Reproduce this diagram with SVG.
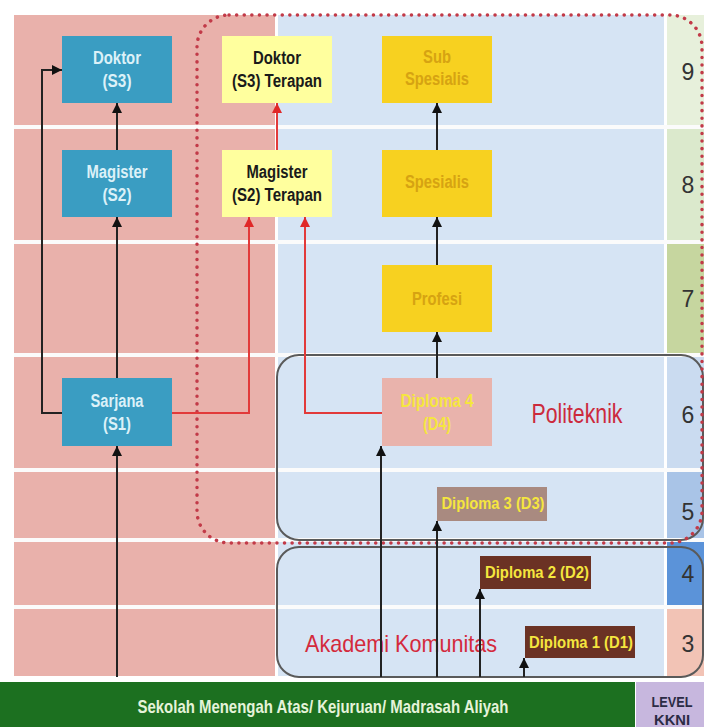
<svg xmlns="http://www.w3.org/2000/svg" width="704" height="727" viewBox="0 0 704 727">
<defs>
<style>
.t{font-family:"Liberation Sans Narrow","Liberation Sans",Arial,sans-serif;font-weight:bold;text-anchor:middle}
.teal{fill:#3a9dc2}.teal-t{fill:#dcf1f8}
.ly{fill:#ffff9e}.ly-t{fill:#1a1a1a}
.gold{fill:#f7d120}.gold-t{fill:#d6a312}
.dip-t{fill:#f5e63e}
.lvl{font-family:"Liberation Sans Narrow","Liberation Sans",Arial,sans-serif;font-size:23px;fill:#333;text-anchor:middle}
.blk{stroke:#222;stroke-width:2;fill:none}
.red{stroke:#e23a3a;stroke-width:2;fill:none}
.sep{stroke:#fbfbfb;stroke-width:4}
</style>
<marker id="ab" markerUnits="userSpaceOnUse" markerWidth="10" markerHeight="12" refX="10" refY="5" orient="auto" viewBox="0 0 10 10"><path d="M0,0 L10,5 L0,10 z" fill="#111"/></marker>
<marker id="ar" markerUnits="userSpaceOnUse" markerWidth="10" markerHeight="12" refX="10" refY="5" orient="auto" viewBox="0 0 10 10"><path d="M0,0 L10,5 L0,10 z" fill="#e02828"/></marker>
</defs>
<rect width="704" height="727" fill="#ffffff"/>
<g id="background">
<rect x="14" y="15" width="261" height="661" fill="#e9b1ab"/>
<rect x="278" y="15" width="386" height="661" fill="#d6e4f4"/>
<rect x="667" y="15" width="37" height="112" fill="#e7f0db"/>
<rect x="667" y="127" width="37" height="115" fill="#dbe9cc"/>
<rect x="667" y="242" width="37" height="113" fill="#c6d69f"/>
<rect x="667" y="355" width="37" height="115" fill="#cadbf0"/>
<rect x="667" y="470" width="37" height="70" fill="#a9c4e7"/>
<rect x="667" y="540" width="37" height="67" fill="#5b93d9"/>
<rect x="667" y="607" width="37" height="69" fill="#f2c3b5"/>
<g class="sep">
<line x1="14" y1="127" x2="704" y2="127"/>
<line x1="14" y1="242" x2="704" y2="242"/>
<line x1="14" y1="355" x2="704" y2="355"/>
<line x1="14" y1="470" x2="704" y2="470"/>
<line x1="14" y1="540" x2="704" y2="540"/>
<line x1="14" y1="607" x2="704" y2="607"/>
</g>
<rect x="0" y="682" width="635" height="45" fill="#1c7020"/>
<rect x="636" y="682" width="68" height="45" fill="#c7b7de"/>
<text class="t" x="323" y="713" font-size="19" fill="#e5f3d9" textLength="371" lengthAdjust="spacingAndGlyphs">Sekolah Menengah Atas/ Kejuruan/ Madrasah Aliyah</text>
<text class="t" x="672" y="707" font-size="15" fill="#2b2b45" textLength="41" lengthAdjust="spacingAndGlyphs">LEVEL</text>
<text class="t" x="672" y="725" font-size="15" fill="#2b2b45" textLength="36" lengthAdjust="spacingAndGlyphs">KKNI</text>
<text class="lvl" x="688" y="80">9</text>
<text class="lvl" x="688" y="193">8</text>
<text class="lvl" x="688" y="307">7</text>
<text class="lvl" x="688" y="423">6</text>
<text class="lvl" x="688" y="520">5</text>
<text class="lvl" x="688" y="582">4</text>
<text class="lvl" x="688" y="652">3</text>
</g>
<g id="groups">
<rect id="politeknik-box" x="277" y="355" width="426" height="185" rx="22" fill="none" stroke="#5a5a5a" stroke-width="2"/>
<rect id="akademi-box" x="277" y="547" width="426" height="130" rx="22" fill="none" stroke="#5a5a5a" stroke-width="2"/>
<rect id="terapan-zone" x="197" y="15" width="505" height="528" rx="32" fill="none" stroke="#c23a48" stroke-width="3.5" stroke-dasharray="0.1 7.5" stroke-linecap="round"/>
<text class="t" x="577" y="423" font-size="27" style="font-weight:normal" fill="#cc2a3c" textLength="91" lengthAdjust="spacingAndGlyphs">Politeknik</text>
<text class="t" x="401" y="652" font-size="24" style="font-weight:normal" fill="#d42a3c" textLength="192" lengthAdjust="spacingAndGlyphs">Akademi Komunitas</text>
</g>
<g id="connectors">
<path class="blk" d="M117,677 V446" marker-end="url(#ab)"/>
<path class="blk" d="M117,378 V217" marker-end="url(#ab)"/>
<path class="blk" d="M117,150 V103" marker-end="url(#ab)"/>
<path class="blk" d="M62,413 H42 V70 H62" marker-end="url(#ab)"/>
<path class="red" d="M172,413 H249 V217" marker-end="url(#ar)"/>
<path class="red" d="M382,413 H305 V217" marker-end="url(#ar)"/>
<path class="red" d="M277,150 V103" marker-end="url(#ar)"/>
<path class="blk" d="M437,378 V332" marker-end="url(#ab)"/>
<path class="blk" d="M437,265 V217" marker-end="url(#ab)"/>
<path class="blk" d="M437,150 V103" marker-end="url(#ab)"/>
<path class="blk" d="M381,677 V446" marker-end="url(#ab)"/>
<path class="blk" d="M437,677 V521" marker-end="url(#ab)"/>
<path class="blk" d="M480,677 V589" marker-end="url(#ab)"/>
<path class="blk" d="M524,677 V658" marker-end="url(#ab)"/>
</g>
<g id="doktor-s3">
<rect class="teal" x="62" y="36" width="110" height="67"/>
<text class="t teal-t" x="117" y="64" font-size="18" textLength="48" lengthAdjust="spacingAndGlyphs">Doktor</text>
<text class="t teal-t" x="117" y="87" font-size="18" textLength="29" lengthAdjust="spacingAndGlyphs">(S3)</text>
</g>
<g id="magister-s2">
<rect class="teal" x="62" y="150" width="110" height="67"/>
<text class="t teal-t" x="117" y="178" font-size="18" textLength="61" lengthAdjust="spacingAndGlyphs">Magister</text>
<text class="t teal-t" x="117" y="201" font-size="18" textLength="29" lengthAdjust="spacingAndGlyphs">(S2)</text>
</g>
<g id="sarjana-s1">
<rect class="teal" x="62" y="378" width="110" height="68"/>
<text class="t teal-t" x="117" y="407" font-size="18" textLength="53" lengthAdjust="spacingAndGlyphs">Sarjana</text>
<text class="t teal-t" x="117" y="430" font-size="18" textLength="28" lengthAdjust="spacingAndGlyphs">(S1)</text>
</g>
<g id="doktor-terapan">
<rect class="ly" x="222" y="36" width="110" height="67"/>
<text class="t ly-t" x="277" y="64" font-size="18" textLength="48" lengthAdjust="spacingAndGlyphs">Doktor</text>
<text class="t ly-t" x="277" y="87" font-size="18" textLength="90" lengthAdjust="spacingAndGlyphs">(S3) Terapan</text>
</g>
<g id="magister-terapan">
<rect class="ly" x="222" y="150" width="110" height="67"/>
<text class="t ly-t" x="277" y="178" font-size="18" textLength="61" lengthAdjust="spacingAndGlyphs">Magister</text>
<text class="t ly-t" x="277" y="201" font-size="18" textLength="90" lengthAdjust="spacingAndGlyphs">(S2) Terapan</text>
</g>
<g id="sub-spesialis">
<rect class="gold" x="382" y="36" width="110" height="67"/>
<text class="t gold-t" x="437" y="63" font-size="18" textLength="28" lengthAdjust="spacingAndGlyphs">Sub</text>
<text class="t gold-t" x="437" y="85" font-size="18" textLength="64" lengthAdjust="spacingAndGlyphs">Spesialis</text>
</g>
<g id="spesialis">
<rect class="gold" x="382" y="150" width="110" height="67"/>
<text class="t gold-t" x="437" y="188" font-size="18" textLength="64" lengthAdjust="spacingAndGlyphs">Spesialis</text>
</g>
<g id="profesi">
<rect class="gold" x="382" y="265" width="110" height="67"/>
<text class="t gold-t" x="437" y="305" font-size="18" textLength="50" lengthAdjust="spacingAndGlyphs">Profesi</text>
</g>
<g id="diploma-4">
<rect x="382" y="378" width="110" height="68" fill="#e9b3ac"/>
<text class="t dip-t" x="437" y="407" font-size="18" textLength="73" lengthAdjust="spacingAndGlyphs">Diploma 4</text>
<text class="t dip-t" x="437" y="430" font-size="18" textLength="28" lengthAdjust="spacingAndGlyphs">(D4)</text>
</g>
<g id="diploma-3">
<rect x="437" y="487" width="110" height="34" fill="#a98a80"/>
<text class="t dip-t" x="493" y="509" font-size="16" textLength="103" lengthAdjust="spacingAndGlyphs">Diploma 3 (D3)</text>
</g>
<g id="diploma-2">
<rect x="480" y="556" width="111" height="33" fill="#6b3224"/>
<text class="t dip-t" x="537" y="578" font-size="16" textLength="104" lengthAdjust="spacingAndGlyphs">Diploma 2 (D2)</text>
</g>
<g id="diploma-1">
<rect x="525" y="626" width="110" height="32" fill="#6b3224"/>
<text class="t dip-t" x="581" y="648" font-size="16" textLength="104" lengthAdjust="spacingAndGlyphs">Diploma 1 (D1)</text>
</g>
</svg>
